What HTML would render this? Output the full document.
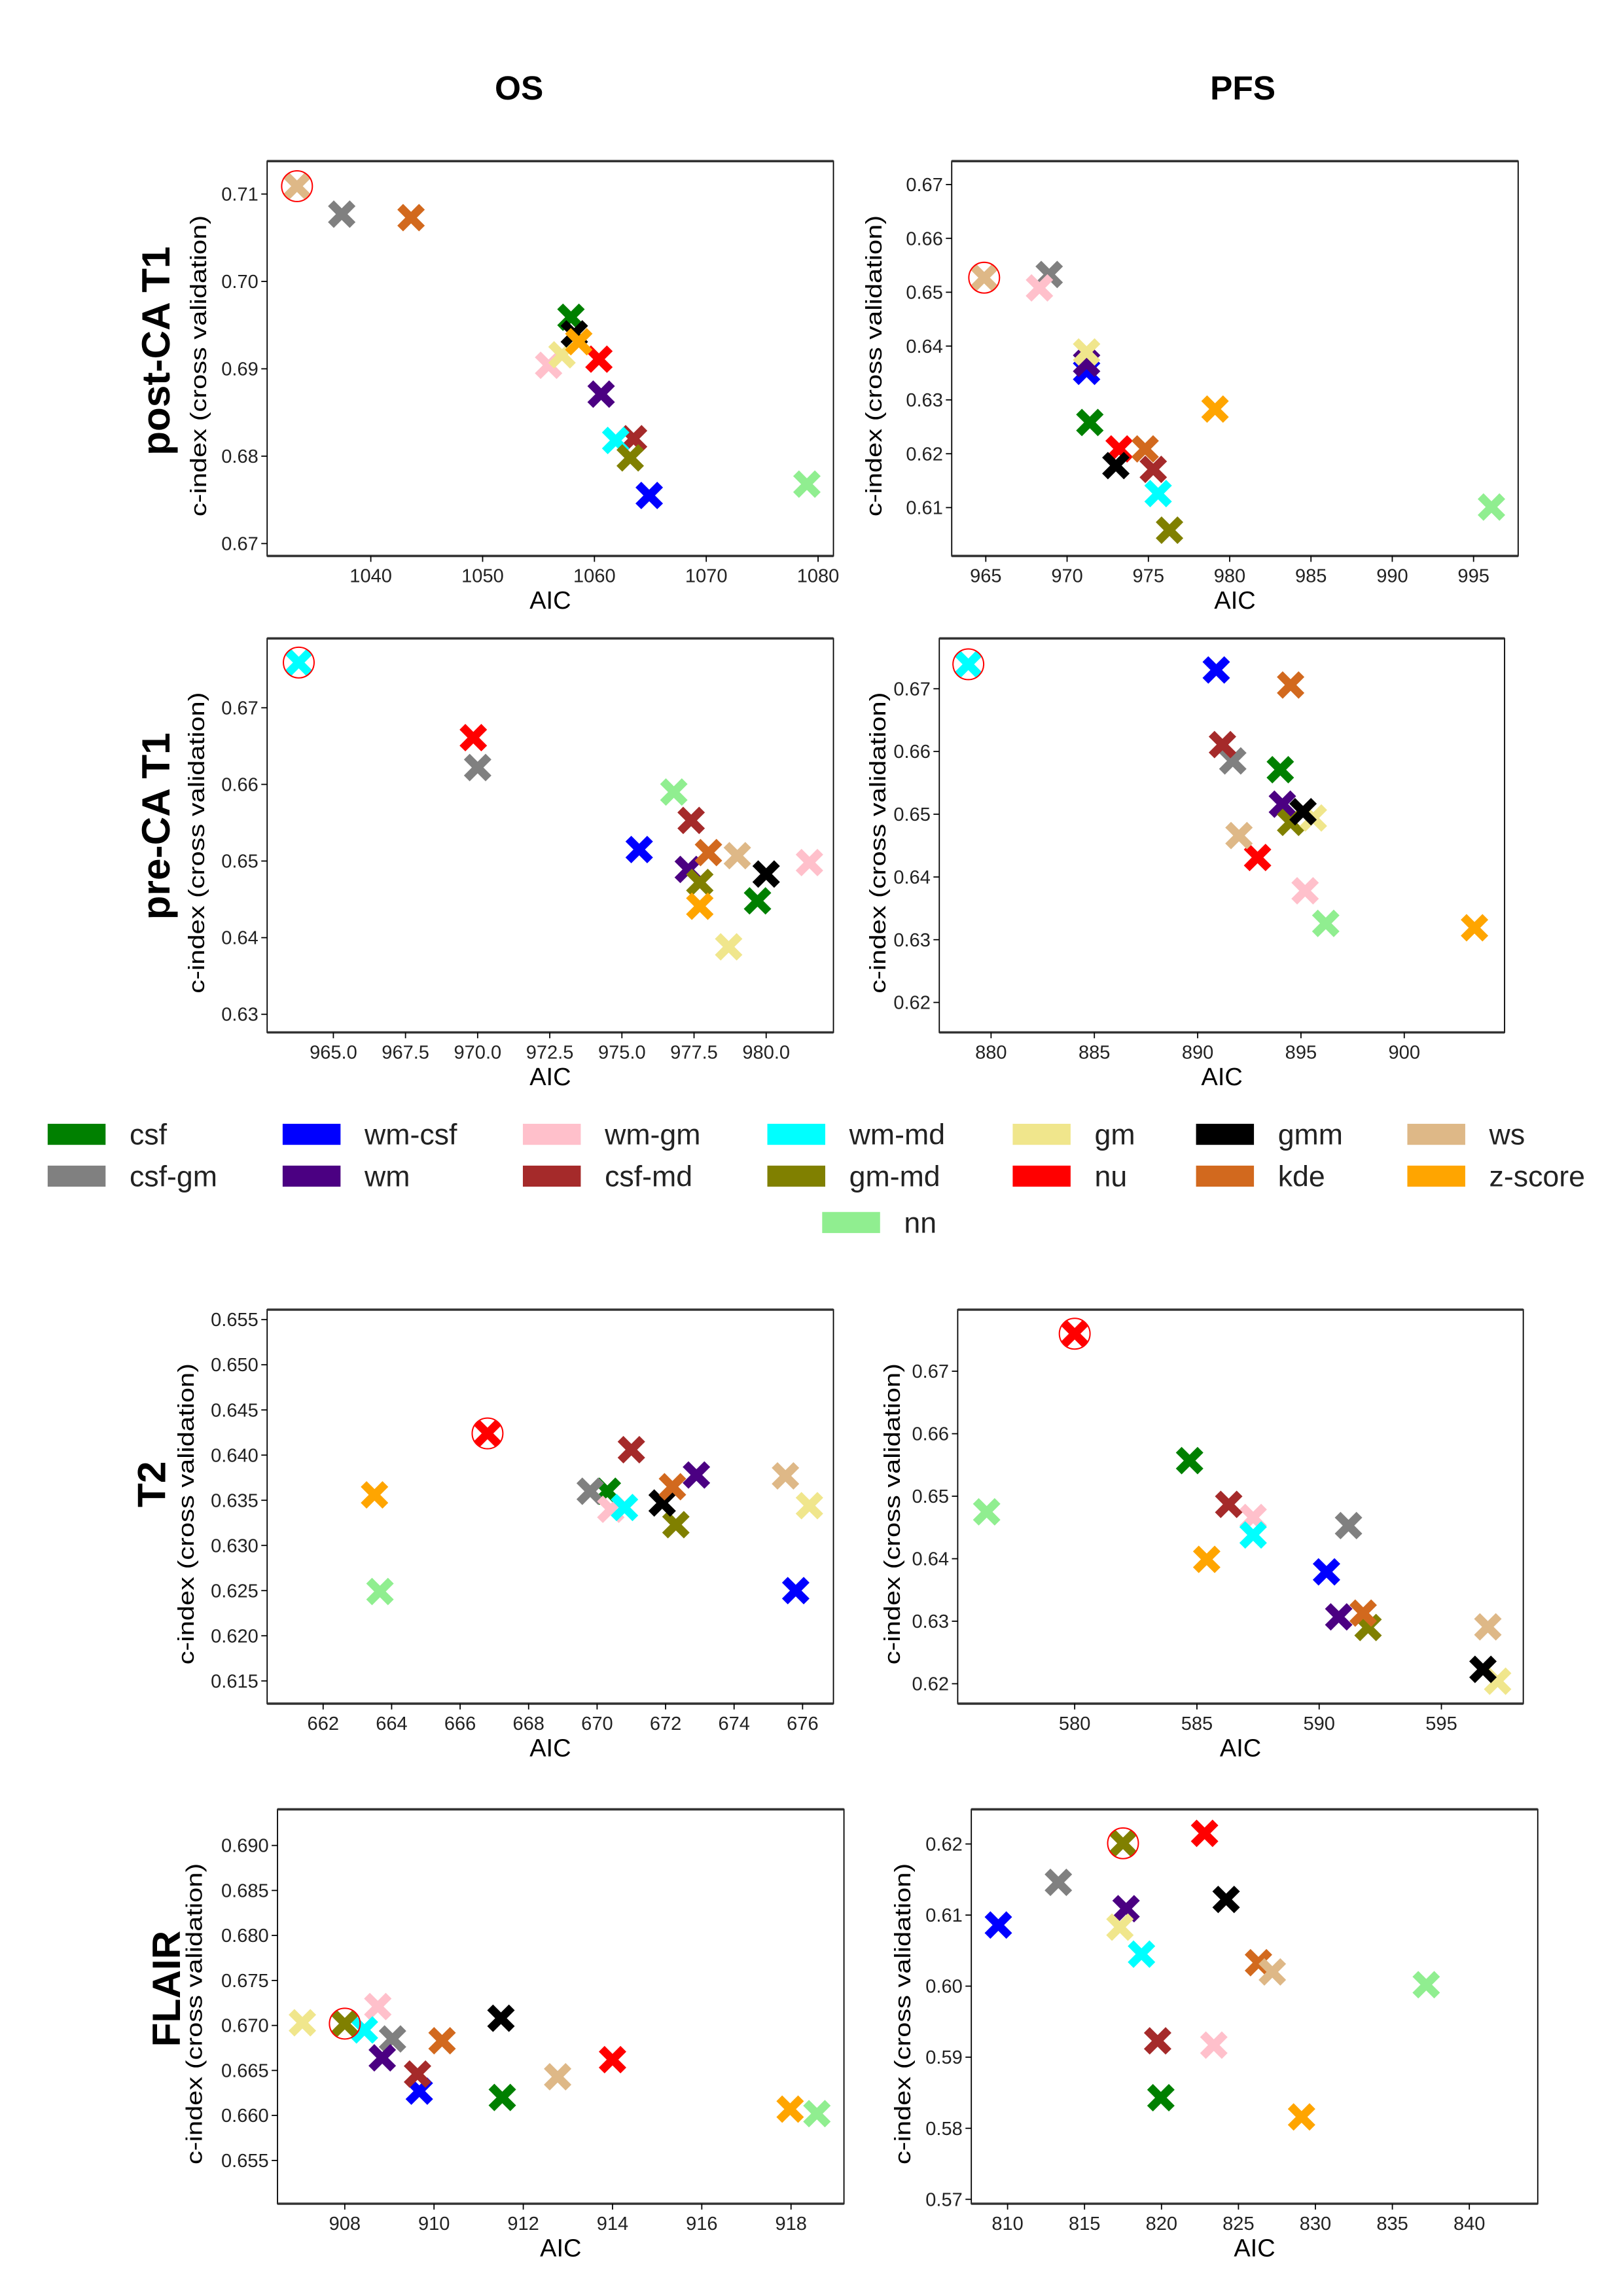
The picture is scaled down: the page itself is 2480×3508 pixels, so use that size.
<!DOCTYPE html>
<html><head><meta charset="utf-8">
<style>
html,body{margin:0;padding:0;background:#fff;}
svg{display:block;}
text{font-family:"Liberation Sans",sans-serif;}
.tk{font-family:"Liberation Sans Narrow","Liberation Sans",sans-serif;font-size:13px;fill:#222;}
</style></head>
<body>
<svg id="fig" xmlns="http://www.w3.org/2000/svg" width="2480" height="3508" viewBox="0 0 1110 1570.1" preserveAspectRatio="none">
<rect x="0" y="0" width="1110" height="1570.1" fill="#fff"/>
<text x="355" y="68" text-anchor="middle" font-size="23" font-weight="bold">OS</text>
<text x="850" y="68" text-anchor="middle" font-size="23" font-weight="bold">PFS</text>
<g id="plots"></g>
<g id="legend"></g>
</svg>
<script>
const categories = ['csf','csf-gm','wm-csf','wm','wm-gm','csf-md','wm-md','gm-md','gm','nu','gmm','kde','ws','z-score','nn'];
const colors = ['#008000','#808080','#0000ff','#4b0082','#ffc0cb','#a52a2a','#00ffff','#808000','#f0e68c','#ff0000','#000000','#d2691e','#deb887','#ffa500','#90ee90'];

const osPostX = [1057.9,1037.4,1064.9,1060.6,1055.9,1063.5,1061.9,1063.2,1057.1,1060.4,1058.2,1043.6,1033.4,1058.6,1079.0];
const osPostY = [0.6959,0.7077,0.6755,0.6871,0.6904,0.6820,0.6818,0.6798,0.6916,0.6911,0.6940,0.7073,0.7109,0.6931,0.6768];
const pfsPostX = [971.4,968.9,971.2,971.2,968.3,975.3,975.6,976.3,971.2,973.2,973.0,974.8,964.9,979.1,996.1];
const pfsPostY = [0.6258,0.6533,0.6353,0.6368,0.6508,0.6171,0.6126,0.6058,0.6389,0.6209,0.6178,0.6209,0.6527,0.6283,0.6101];
const osPreX = [979.7,970.0,975.6,977.3,981.5,977.4,963.8,977.7,978.7,969.85,980.0,978.0,979.0,977.7,976.8];
const osPreY = [0.6448,0.6622,0.6515,0.6489,0.6498,0.6553,0.6759,0.6472,0.6388,0.6661,0.6483,0.6511,0.6507,0.6441,0.6590];
const pfsPreX = [894.0,891.7,890.9,894.1,895.2,891.2,878.9,894.5,895.6,892.9,895.1,894.5,892.0,903.4,896.2];
const pfsPreY = [0.6571,0.6585,0.6730,0.6516,0.6378,0.6611,0.6739,0.6487,0.6494,0.6431,0.6504,0.6706,0.6466,0.6319,0.6326];
const osT2X = [670.3,669.8,675.8,672.9,670.4,671.0,670.8,672.3,676.2,666.8,671.9,672.2,675.5,663.5,663.66];
const osT2Y = [0.6360,0.6360,0.6250,0.6378,0.6340,0.6406,0.6342,0.6323,0.6344,0.6424,0.6347,0.6365,0.6377,0.6356,0.6249];
const pfsT2X = [584.7,591.2,590.3,590.8,587.3,586.3,587.3,592.0,597.3,580.0,596.7,591.8,596.9,585.4,576.4];
const pfsT2Y = [0.6557,0.6453,0.6379,0.6307,0.6466,0.6487,0.6438,0.6290,0.6204,0.6760,0.6223,0.6313,0.6291,0.6399,0.6475];
const osFlairX = [911.53,909.07,909.67,908.84,908.74,909.63,908.44,908.0,907.05,914.0,911.5,910.18,912.77,917.98,918.58];
const osFlairY = [0.6620,0.6685,0.6627,0.6664,0.6721,0.6646,0.6695,0.6702,0.6703,0.6662,0.6708,0.6683,0.6643,0.6607,0.6602];
const pfsFlairX = [819.96,813.3,809.4,817.7,823.4,819.75,818.7,817.5,817.3,822.8,824.2,826.3,827.2,829.1,837.2];
const pfsFlairY = [0.5843,0.6146,0.6086,0.6109,0.5917,0.5923,0.6045,0.6201,0.6083,0.6215,0.6122,0.6033,0.6020,0.5816,0.6002];
const bestIdx = [12,12,6,6,9,9,7,7];

const xTicks1 = [1040,1050,1060,1070,1080];
const yTicks1 = [0.67,0.68,0.69,0.70,0.71];
const xTicks2 = [965,970,975,980,985,990,995];
const yTicks2 = [0.61,0.62,0.63,0.64,0.65,0.66,0.67];
const xTicks3 = [965,967.5,970,972.5,975,977.5,980];
const yTicks3 = [0.63,0.64,0.65,0.66,0.67];
const xTicks4 = [880,885,890,895,900];
const yTicks4 = [0.62,0.63,0.64,0.65,0.66,0.67];
const xTicks5 = [662,664,666,668,670,672,674,676];
const yTicks5 = [0.615,0.62,0.625,0.63,0.635,0.64,0.645,0.65,0.655];
const xTicks6 = [580,585,590,595];
const yTicks6 = [0.62,0.63,0.64,0.65,0.66,0.67];
const xTicks7 = [908,910,912,914,916,918];
const yTicks7 = [0.655,0.66,0.665,0.67,0.675,0.68,0.685,0.69];
const xTicks8 = [810,815,820,825,830,835,840];
const yTicks8 = [0.57,0.58,0.59,0.60,0.61,0.62];

const NS='http://www.w3.org/2000/svg';
function mk(tag, attrs, parent){const e=document.createElementNS(NS,tag);for(const k in attrs)e.setAttribute(k,attrs[k]);if(parent)parent.appendChild(e);return e;}

// layout: box + two reference ticks per axis (pixel calibration)
const panels = [
 {name:'os-post-ca-t1', X:osPostX,Y:osPostY,xt:xTicks1,yt:yTicks1,xd:0,yd:2, box:[182.7,110.2,570,380.2], xr:[1040,253.6,1080,559.5], yr:[0.71,132.7,0.67,371.7], yl:136},
 {name:'pfs-post-ca-t1', X:pfsPostX,Y:pfsPostY,xt:xTicks2,yt:yTicks2,xd:0,yd:2, box:[650.9,110.2,1038.3,380.2], xr:[965,674.2,995,1007.8], yr:[0.67,126.2,0.61,347.1], yl:598},
 {name:'os-pre-ca-t1', X:osPreX,Y:osPreY,xt:xTicks3,yt:yTicks3,xd:1,yd:2, box:[182.7,436.6,570,706], xr:[965,228,980,524], yr:[0.67,484,0.63,693.6], yl:134.6},
 {name:'pfs-pre-ca-t1', X:pfsPreX,Y:pfsPreY,xt:xTicks4,yt:yTicks4,xd:0,yd:2, box:[642.4,436.6,1029,706], xr:[880,677.8,900,960.4], yr:[0.67,471,0.62,685.5], yl:600.6},
 {name:'os-t2', X:osT2X,Y:osT2Y,xt:xTicks5,yt:yTicks5,xd:0,yd:3, box:[182.7,895.6,570,1165], xr:[662,221,676,548.9], yr:[0.655,902.4,0.615,1149.5], yl:127.5},
 {name:'pfs-t2', X:pfsT2X,Y:pfsT2Y,xt:xTicks6,yt:yTicks6,xd:0,yd:2, box:[655,895.6,1041.8,1165], xr:[580,735,595,985.8], yr:[0.67,937.7,0.62,1151.4], yl:610.5},
 {name:'os-flair', X:osFlairX,Y:osFlairY,xt:xTicks7,yt:yTicks7,xd:0,yd:3, box:[189.8,1237.3,577.2,1507], xr:[908,235.8,918,541], yr:[0.69,1262,0.655,1477.4], yl:133},
 {name:'pfs-flair', X:pfsFlairX,Y:pfsFlairY,xt:xTicks8,yt:yTicks8,xd:0,yd:2, box:[664.3,1237.3,1051.7,1507], xr:[810,689.1,840,1004.9], yr:[0.62,1261,0.57,1504], yl:617.6}
];

const plots=document.getElementById('plots');
panels.forEach((p,pi)=>{
  const g=mk('g',{},plots);
  
  
  const [l,t,r,b]=p.box;
  const sx=v=>p.xr[1]+(v-p.xr[0])*(p.xr[3]-p.xr[1])/(p.xr[2]-p.xr[0]);
  const sy=v=>p.yr[1]+(v-p.yr[0])*(p.yr[3]-p.yr[1])/(p.yr[2]-p.yr[0]);
  const frame=mk('rect',{x:l,y:t,width:r-l,height:b-t,fill:'#fff',stroke:'#000','stroke-width':0.8},g);
  
  
  mk('line',{x1:l,y1:t,x2:r,y2:t,stroke:'#333','stroke-width':1.6},g);
  mk('line',{x1:l,y1:b,x2:r,y2:b,stroke:'#333','stroke-width':1.6},g);
  p.xt.forEach(v=>{
    const x=sx(v);
    mk('line',{x1:x,y1:b,x2:x,y2:b+4,stroke:'#000','stroke-width':0.8},g);
    const tx=mk('text',{x:x,y:b+18,'text-anchor':'middle',class:'tk'},g);
    tx.textContent=v.toFixed(p.xd);
    
    
  });
  p.yt.forEach(v=>{
    const y=sy(v);
    mk('line',{x1:l-4,y1:y,x2:l,y2:y,stroke:'#000','stroke-width':0.8},g);
    const tx=mk('text',{x:l-6,y:y+4.5,'text-anchor':'end',class:'tk'},g);
    tx.textContent=v.toFixed(p.yd);
    
    
  });
  const xl=mk('text',{x:(l+r)/2,y:b+36,'text-anchor':'middle','font-size':17},g);
  xl.textContent='AIC';
  
  
  const cy=(t+b)/2+5;
  const yl=mk('text',{x:0,y:0,'text-anchor':'middle','font-size':15.5,'font-family':'DejaVu Sans, sans-serif',textLength:206,lengthAdjust:'spacingAndGlyphs',transform:`translate(${p.yl+5},${cy}) rotate(-90)`},g);
  yl.textContent='c-index (cross validation)';
  
  
  // markers
  p.X.forEach((xv,i)=>{
    const cx=sx(xv), cyy=sy(p.Y[i]);
    const m=mk('g',{transform:`translate(${cx},${cyy})`,fill:colors[i]},g);
    
    
    mk('rect',{x:-10.5,y:-2.8,width:21,height:5.6,transform:'rotate(45)'},m);
    mk('rect',{x:-10.5,y:-2.8,width:21,height:5.6,transform:'rotate(-45)'},m);
  });
  const bi=bestIdx[pi];
  const c=mk('ellipse',{cx:sx(p.X[bi]),cy:sy(p.Y[bi]),rx:10.5,ry:10.5,fill:'none',stroke:'#ff0000','stroke-width':0.9},g);
  
  
});

// row labels
const rowLabels=[['post-CA T1',106,240],['pre-CA T1',106,565],['T2',103,1015],['FLAIR',113,1360]];
rowLabels.forEach(rl=>{
  const t=mk('text',{x:0,y:0,'text-anchor':'middle','font-size':27,'font-weight':'bold','font-family':'DejaVu Sans, sans-serif',transform:`translate(${rl[1]+10},${rl[2]}) rotate(-90)`},plots);
  t.textContent=rl[0];
  
  
});

// legend
const legendRows=[['csf','wm-csf','wm-gm','wm-md','gm','gmm','ws'],['csf-gm','wm','csf-md','gm-md','nu','kde','z-score']];
const colX=[32.6,193.3,357.6,524.8,692.6,818,962.5];
const rowY=[775.7,804.3];
const lg=document.getElementById('legend');
function legendEntry(name,x,y){
  const e=mk('g',{},lg);
  
  
  mk('rect',{x:x,y:y-7.2,width:39.6,height:14.4,fill:colors[categories.indexOf(name)]},e);
  const t=mk('text',{x:x+56,y:y+7,'font-size':20,fill:'#222'},e);
  t.textContent=name;
}
legendRows.forEach((row,ri)=>row.forEach((n,ci)=>legendEntry(n,colX[ci],rowY[ri])));
legendEntry('nn',562.3,836);
</script>
</body></html>
